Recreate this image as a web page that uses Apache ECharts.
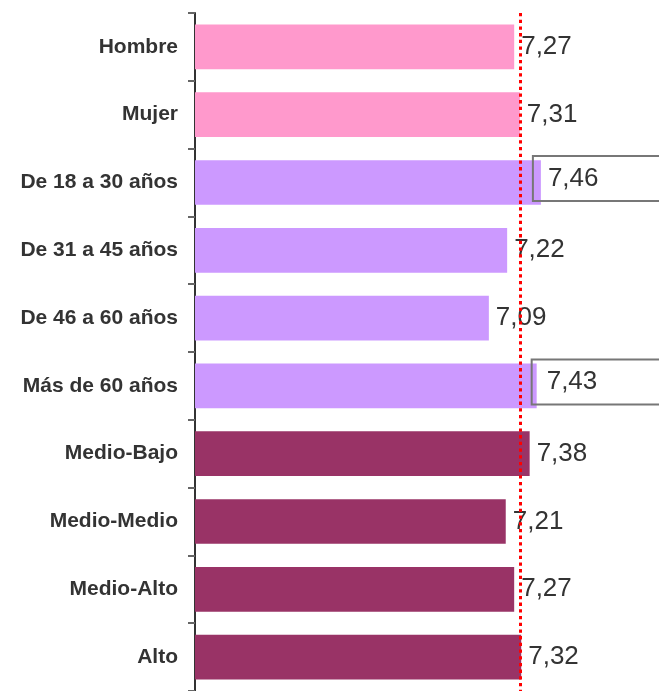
<!DOCTYPE html>
<html>
<head>
<meta charset="utf-8">
<script src="https://cdn.jsdelivr.net/npm/echarts@6/dist/echarts.min.js"></script>
<style>
  html, body { margin: 0; padding: 0; background: #fff; }
  #chart { width: 659px; height: 691px; }
</style>
</head>
<body>
<div id="chart"></div>
<script>
const categories = ['Hombre', 'Mujer', 'De 18 a 30 años', 'De 31 a 45 años', 'De 46 a 60 años',
  'Más de 60 años', 'Medio-Bajo', 'Medio-Medio', 'Medio-Alto', 'Alto']
const values = [7.27, 7.31, 7.46, 7.22, 7.09, 7.43, 7.38, 7.21, 7.27, 7.32]
const groups = ['sexo', 'sexo', 'edad', 'edad', 'edad', 'edad', 'nivel', 'nivel', 'nivel', 'nivel']
const boxed = [false, false, true, false, false, true, false, false, false, false]
const average = 7.31

const groupColors = { sexo: '#ff99cc', edad: '#cc99ff', nivel: '#993366' }
const font = 'Arial, "Liberation Sans", sans-serif'
const avgLine = { color: '#ff0000', type: [3.3, 3.4], width: 3, opacity: 1 }

const chart = echarts.init(document.getElementById('chart'))

const seriesData = values.map((v, i) => {
  const item = { value: v, itemStyle: { color: groupColors[groups[i]] } }
  if (boxed[i]) {
    // these two labels sit in a grey frame that runs off the right edge
    item.label = {
      distance: 0,
      offset: [v > 7.44 ? -8 : -5, -4],
      borderColor: '#777',
      borderWidth: 2,
      padding: [19, 0, 0, 15],
      width: 130
    }
  }
  return item
})

chart.setOption({
  animation: false,
  backgroundColor: '#fff',
  grid: { left: 195, right: 0, top: 13, bottom: -2 },
  xAxis: {
    type: 'value', min: 5, max: 8.3,
    show: false
  },
  yAxis: {
    type: 'category', data: categories, inverse: true,
    axisLine: { lineStyle: { color: '#333', width: 2 } },
    axisTick: { show: true, length: 7, lineStyle: { color: '#666', width: 2 } },
    axisLabel: { color: '#333', fontSize: 21, fontWeight: 'bold', fontFamily: font, margin: 17 }
  },
  series: [{
    type: 'bar', data: seriesData,
    barCategoryGap: '34%',
    label: {
      show: true, position: 'right', distance: 7,
      color: '#333', fontSize: 26, fontFamily: font,
      formatter: p => p.value.toFixed(2).replace('.', ',')
    },
    markLine: {
      silent: true, symbol: 'none', z: 10,
      label: { show: false },
      emphasis: { disabled: true },
      lineStyle: avgLine,
      data: [{ xAxis: average, lineStyle: avgLine, itemStyle: { color: '#ff0000' } }]
    }
  }]
})
</script>
</body>
</html>
